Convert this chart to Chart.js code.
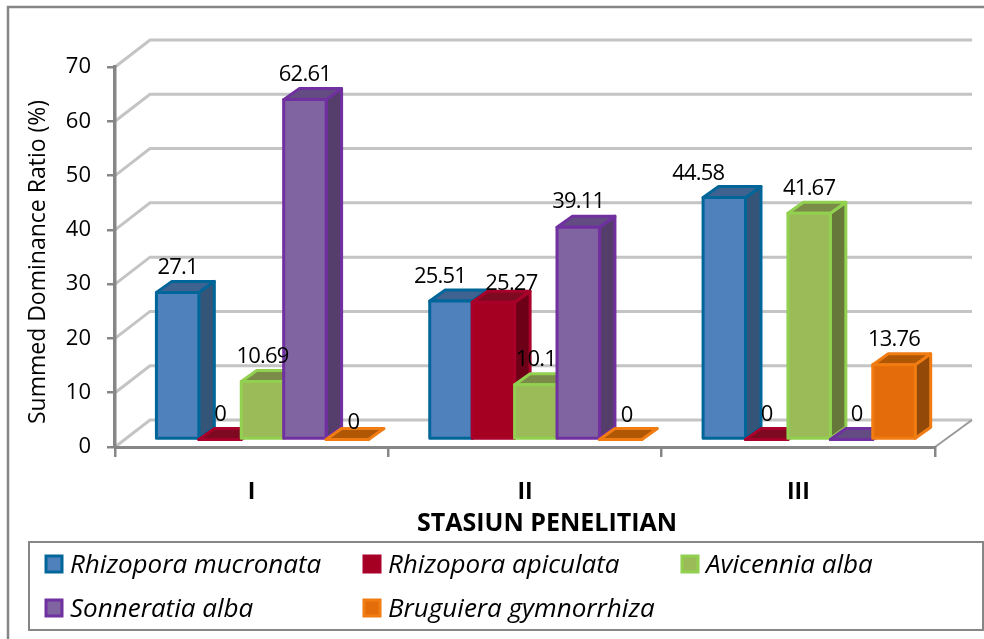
<!DOCTYPE html>
<html>
<head>
<meta charset="utf-8">
<title>Summed Dominance Ratio</title>
<script src="https://cdn.jsdelivr.net/npm/chart.js@4"></script>
<style>
    html, body { margin: 0; padding: 0; background: #fff; }
    canvas { display: block; }
</style>
</head>
<body>
<canvas id="chart" width="984" height="639"></canvas>
<script>
const stations = ['I', 'II', 'III'];
const yTicks = [0, 10, 20, 30, 40, 50, 60, 70];

const rhizophoraMucronata = [27.1, 25.51, 44.58];
const rhizophoraApiculata = [0, 25.27, 0];
const avicenniaAlba = [10.69, 10.1, 41.67];
const sonneratiaAlba = [62.61, 39.11, 0];
const bruguieraGymnorrhiza = [0, 0, 13.76];

const speciesNames = ['Rhizopora mucronata', 'Rhizopora apiculata', 'Avicennia alba', 'Sonneratia alba', 'Bruguiera gymnorrhiza'];
const speciesValues = [rhizophoraMucronata, rhizophoraApiculata, avicenniaAlba, sonneratiaAlba, bruguieraGymnorrhiza];

// face, edge, side and top colours of each 3D bar
const faceColors = ['#4f81bd', '#a50021', '#9bbb59', '#8064a2', '#e46c0a'];
const edgeColors = ['#006699', '#a8002a', '#92d050', '#7030a0', '#f07c12'];
const sideColors = ['#355578', '#6d0017', '#66783a', '#553e6b', '#934a08'];
const topColors = ['#3f6391', '#7d0a20', '#7a8c48', '#634c82', '#b05706'];

// hand-moved data labels in the original: series -> station -> [dx, dy]
const labelNudges = { '0:1': [-11, 1], '1:1': [18, 6], '0:2': [-26, 1], '4:0': [6, 8], '4:1': [6, 1], '3:2': [5, 0] };

const FONT = '"Open Sans", sans-serif';
const GREY = '#868686';
const GRID = '#c4c4c4';
const WALL = { dx: 35, dy: -27, right: 37 };
const BAR_SHIFT = { x: 10.8, y: -7.5 };
const DEPTH = { x: 15.5, y: -11 };
const EDGE = 3;

function line(ctx, points, color, width) {
    ctx.beginPath();
    points.forEach(([x, y], i) => (i ? ctx.lineTo(x, y) : ctx.moveTo(x, y)));
    ctx.strokeStyle = color;
    ctx.lineWidth = width;
    ctx.stroke();
}

function poly(ctx, points, fill, stroke) {
    ctx.beginPath();
    points.forEach(([x, y], i) => (i ? ctx.lineTo(x, y) : ctx.moveTo(x, y)));
    ctx.closePath();
    ctx.fillStyle = fill;
    ctx.fill();
    ctx.strokeStyle = stroke;
    ctx.lineWidth = EDGE;
    ctx.lineJoin = 'round';
    ctx.stroke();
}

const chart3d = {
    id: 'chart3d',
    beforeDraw(chart) {
        const { ctx, chartArea: { left, right }, scales: { y } } = chart;
        ctx.save();
        // outer frame, open on the right and bottom
        line(ctx, [[8, 639], [8, 7], [984, 7]], GREY, 2.5);
        // back wall
        yTicks.forEach(tick => {
            const py = y.getPixelForValue(tick);
            line(ctx, [[left, py], [left + WALL.dx, py + WALL.dy], [right + WALL.right, py + WALL.dy]], GRID, 3);
        });
        const py0 = y.getPixelForValue(0);
        line(ctx, [[right, py0], [right + WALL.right, py0 + WALL.dy]], '#9a9a9a', 2);
        ctx.restore();
    },
    // series are painted first to last so each one covers the side of the one before
    beforeDatasetsDraw(chart) {
        const { ctx } = chart;
        ctx.save();
        ctx.translate(BAR_SHIFT.x, BAR_SHIFT.y);
        speciesNames.forEach((name, i) => {
            chart.getDatasetMeta(i).data.forEach(bar => {
                const l = bar.x - bar.width / 2;
                const r = bar.x + bar.width / 2;
                if (bar.base - bar.y > 0) {
                    poly(ctx, [[r, bar.y], [r + DEPTH.x, bar.y + DEPTH.y], [r + DEPTH.x, bar.base + DEPTH.y], [r, bar.base]], sideColors[i], edgeColors[i]);
                }
                poly(ctx, [[l, bar.y], [l + DEPTH.x, bar.y + DEPTH.y], [r + DEPTH.x, bar.y + DEPTH.y], [r, bar.y]], topColors[i], edgeColors[i]);
                bar.draw(ctx);
                ctx.strokeStyle = edgeColors[i];
                ctx.lineWidth = EDGE;
                ctx.lineJoin = 'round';
                ctx.strokeRect(l, bar.y, bar.width, bar.base - bar.y);
            });
        });
        ctx.restore();
    },
    beforeDatasetDraw() {
        return false;
    },
    afterDatasetsDraw(chart) {
        const { ctx } = chart;
        ctx.save();
        ctx.fillStyle = '#000';
        ctx.textAlign = 'center';
        ctx.textBaseline = 'middle';
        ctx.font = '22px ' + FONT;
        ctx.letterSpacing = '-0.8px';
        speciesValues.forEach((values, s) => {
            chart.getDatasetMeta(s).data.forEach((bar, c) => {
                const [nx, ny] = labelNudges[s + ':' + c] || [0, 0];
                ctx.fillText(String(values[c]), bar.x + BAR_SHIFT.x + nx, bar.y + BAR_SHIFT.y - 25 + ny);
            });
        });
        ctx.restore();
    },
    afterDraw(chart) {
        const { ctx } = chart;
        ctx.save();
        ctx.fillStyle = '#000';
        ctx.textBaseline = 'middle';

        // axis titles, placed off-centre in the original
        ctx.textAlign = 'center';
        ctx.font = 'bold 25px ' + FONT;
        ctx.fillText('STASIUN PENELITIAN', 547, 524);
        ctx.save();
        ctx.translate(38, 262);
        ctx.rotate(-Math.PI / 2);
        ctx.font = '23px ' + FONT;
        ctx.fillText('Summed Dominance Ratio (%)', 0, 0);
        ctx.restore();

        // legend box, two rows on a three column grid
        ctx.strokeStyle = GREY;
        ctx.lineWidth = 2;
        ctx.strokeRect(29, 542, 954, 88);
        ctx.textAlign = 'left';
        ctx.font = 'italic 26px ' + FONT;
        speciesNames.forEach((name, i) => {
            const x = [46, 364, 682][i % 3];
            const y = [564, 608][Math.floor(i / 3)];
            ctx.fillStyle = faceColors[i];
            ctx.fillRect(x, y - 8, 16, 16);
            ctx.strokeStyle = edgeColors[i];
            ctx.lineWidth = EDGE;
            ctx.strokeRect(x, y - 8, 16, 16);
            ctx.fillStyle = '#000';
            ctx.fillText(name, x + 24, y + 1.5);
        });
        ctx.restore();
    }
};

new Chart(document.getElementById('chart'), {
    type: 'bar',
    data: {
        labels: stations,
        datasets: speciesNames.map((name, i) => ({
            label: name,
            data: speciesValues[i],
            backgroundColor: faceColors[i],
            borderWidth: 0,
            categoryPercentage: 0.776,
            barPercentage: 1
        }))
    },
    options: {
        responsive: false,
        animation: false,
        layout: { padding: { top: 67, right: 49, left: 0, bottom: 0 } },
        plugins: {
            legend: { display: false },
            tooltip: { enabled: false }
        },
        scales: {
            x: {
                afterFit: scale => { scale.height = 192; },
                grid: { offset: true, drawOnChartArea: false, color: GREY, lineWidth: 2.5, tickLength: 10 },
                border: { color: GREY, width: 3 },
                ticks: { color: '#000', padding: 22, font: { family: FONT, size: 23, weight: 'bold' } }
            },
            y: {
                min: 0,
                max: 70,
                afterFit: scale => { scale.width = 115; },
                grid: { drawOnChartArea: false, color: GREY, lineWidth: 2.5, tickLength: 8 },
                border: { color: GREY, width: 3.5 },
                ticks: { color: '#000', stepSize: 10, padding: 16, font: { family: FONT, size: 22 } }
            }
        }
    },
    plugins: [chart3d]
});
</script>
</body>
</html>
